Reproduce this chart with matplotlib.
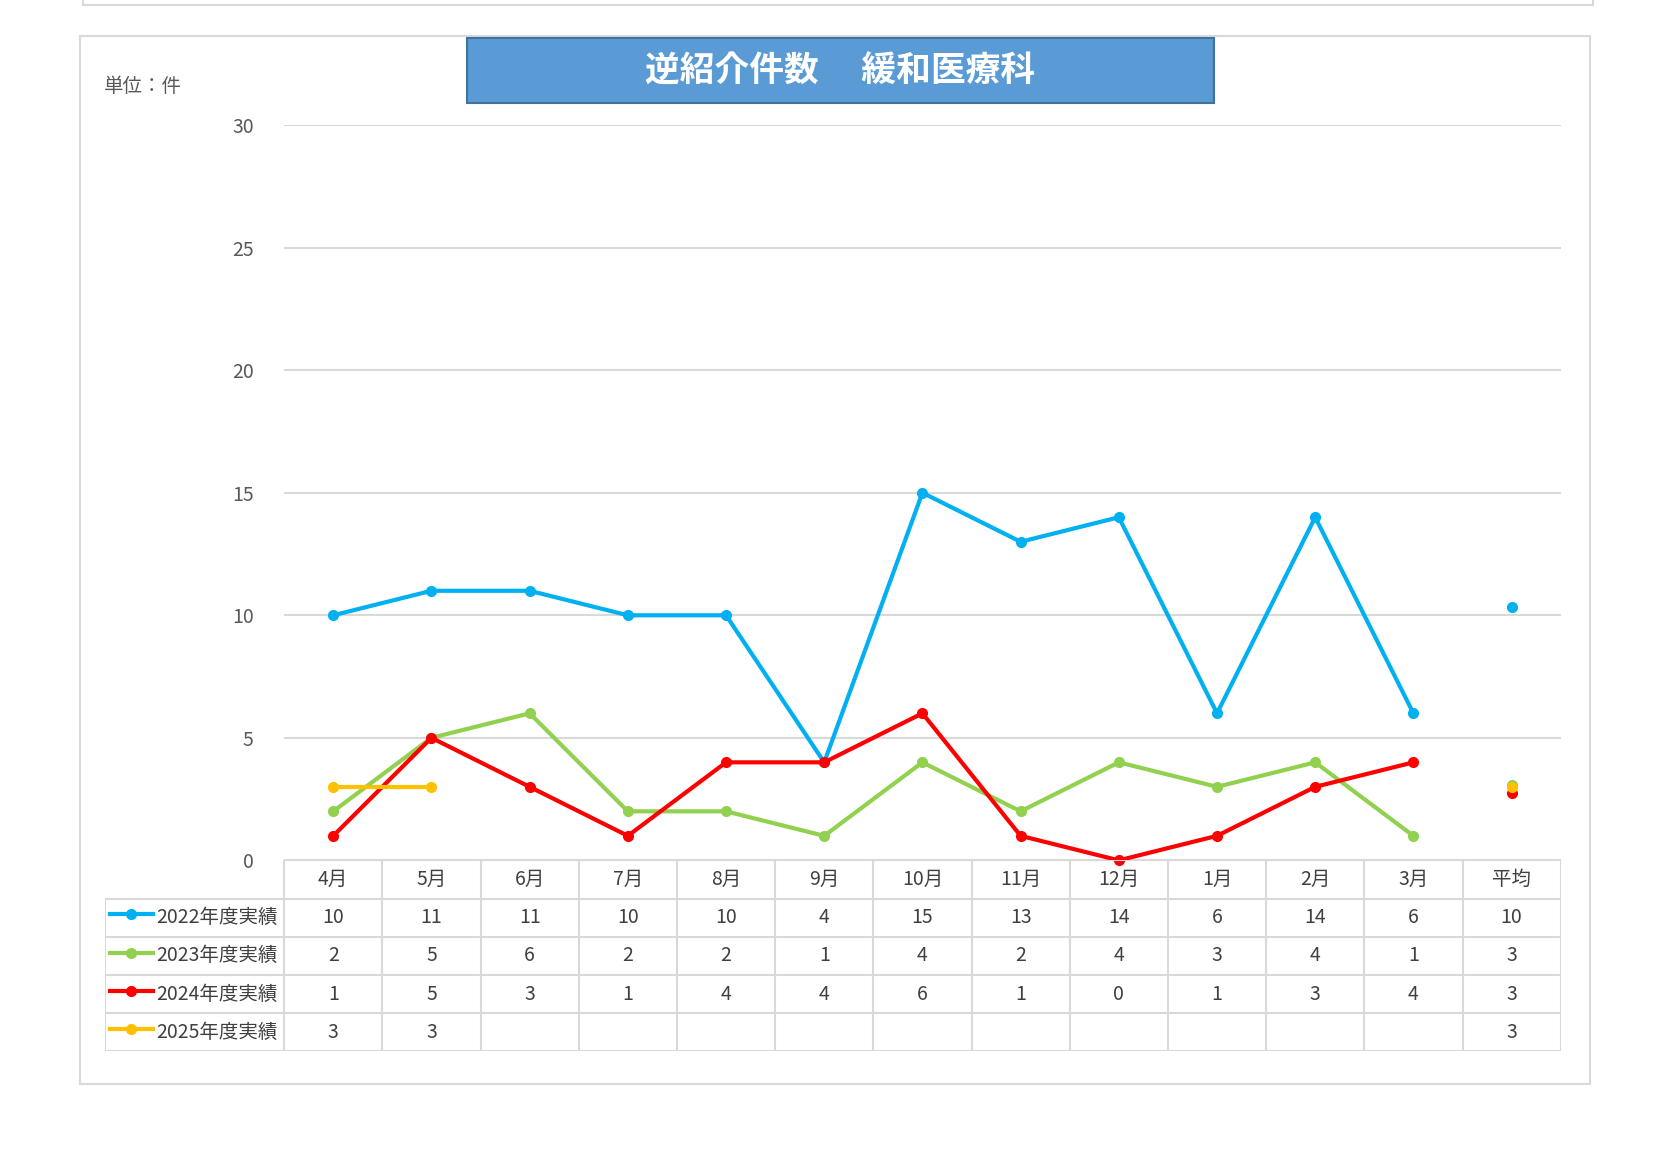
import matplotlib.pyplot as plt
from matplotlib.patches import Rectangle
import numpy as np

plt.rcParams['font.family'] = ['Noto Sans CJK JP']

months = ['4月', '5月', '6月', '7月', '8月', '9月', '10月', '11月', '12月', '1月', '2月', '3月']
series_names = ['2022年度実績', '2023年度実績', '2024年度実績', '2025年度実績']
v2022 = [10, 11, 11, 10, 10, 4, 15, 13, 14, 6, 14, 6]
v2023 = [2, 5, 6, 2, 2, 1, 4, 2, 4, 3, 4, 1]
v2024 = [1, 5, 3, 1, 4, 4, 6, 1, 0, 1, 3, 4]
v2025 = [3, 3]
averages = [10.33, 3.08, 2.75, 3.0]
avg_labels = ['10', '3', '3', '3']
colors = ['#00B0F0', '#92D050', '#FF0000', '#FFC000']

W, H = 1560, 1101
fig = plt.figure(figsize=(16.54, 11.68), dpi=100)

def fx(x): return x / W
def fy(y): return 1 - y / H

# frames
fig.patches.append(Rectangle((fx(75), fy(1022)), fx(1500) - fx(75), fy(34) - fy(1022),
                             transform=fig.transFigure, fill=False, ec='#D9D9D9', lw=1.5))
fig.add_artist(plt.Line2D([fx(78), fx(1502)], [fy(5), fy(5)], color='#D9D9D9', lw=1.5))
fig.add_artist(plt.Line2D([fx(78), fx(78)], [fy(0), fy(5)], color='#D9D9D9', lw=1.5))
fig.add_artist(plt.Line2D([fx(1502), fx(1502)], [fy(0), fy(5)], color='#D9D9D9', lw=1.5))

# title box
fig.patches.append(Rectangle((fx(440), fy(97)), fx(1145) - fx(440), fy(36) - fy(97),
                             transform=fig.transFigure, fc='#5B9BD5', ec='#41719C', lw=1.5))
fig.text(fx(792), fy(67), '逆紹介件数　 緩和医療科', color='white', fontsize=25,
         fontweight='bold', ha='center', va='center')
fig.text(fx(98), fy(82), '単位：件', color='#595959', fontsize=14, ha='left', va='center')

ax = fig.add_axes([fx(268), fy(811), fx(1472) - fx(268), fy(118) - fy(811)])
ax.set_xlim(0, 13)
ax.set_ylim(0, 30)
ax.set_yticks(range(0, 31, 5))
ax.yaxis.grid(True, color='#D9D9D9', lw=1.5)
ax.set_axisbelow(True)
for s in ax.spines.values():
    s.set_visible(False)
ax.set_xticks([])
ax.tick_params(axis='y', length=0, labelsize=14, labelcolor='#595959', pad=22)

xs = np.arange(12) + 0.5
for vals, c, avg in zip([v2022, v2023, v2024, v2025], colors, averages):
    ax.plot(xs[:len(vals)], vals, color=c, lw=3, marker='o', ms=7, clip_on=False)
    ax.plot([12.5], [avg], 'o', color=c, ms=7, clip_on=False)

# table
tax = fig.add_axes([fx(99), fy(991), fx(1472) - fx(99), fy(811) - fy(991)])
tax.set_xlim(99, 1472)
tax.set_ylim(991, 811)
tax.axis('off')
col_x = [99, 268] + [268 + (1472 - 268) / 13 * (i + 1) for i in range(13)]
row_y = [811, 847, 883, 919, 955, 991]
lc = '#D9D9D9'
for i, y in enumerate(row_y):
    x0 = 268 if i == 0 else 99
    tax.plot([x0, 1472], [y, y], color=lc, lw=1.5)
for j, x in enumerate(col_x):
    y0 = 847 if j == 0 else 811
    tax.plot([x, x], [y0, 991], color=lc, lw=1.5)
headers = months + ['平均']
for j, h in enumerate(headers):
    cx = (col_x[j + 1] + col_x[j + 2]) / 2
    tax.text(cx, 829, h, ha='center', va='center', fontsize=14, color='#404040')
all_vals = [v2022, v2023, v2024, v2025]
for i, (name, vals, c, al) in enumerate(zip(series_names, all_vals, colors, avg_labels)):
    cy = (row_y[i + 1] + row_y[i + 2]) / 2
    tax.plot([104, 144], [cy - 3, cy - 3], color=c, lw=3)
    tax.plot([124], [cy - 3], 'o', color=c, ms=7)
    tax.text(147, cy, name, ha='left', va='center', fontsize=14, color='#404040')
    for j, v in enumerate(vals):
        cx = (col_x[j + 1] + col_x[j + 2]) / 2
        tax.text(cx, cy, str(v), ha='center', va='center', fontsize=14, color='#404040')
    cx = (col_x[13] + col_x[14]) / 2
    tax.text(cx, cy, al, ha='center', va='center', fontsize=14, color='#404040')

fig.savefig('out.png', dpi=100)
